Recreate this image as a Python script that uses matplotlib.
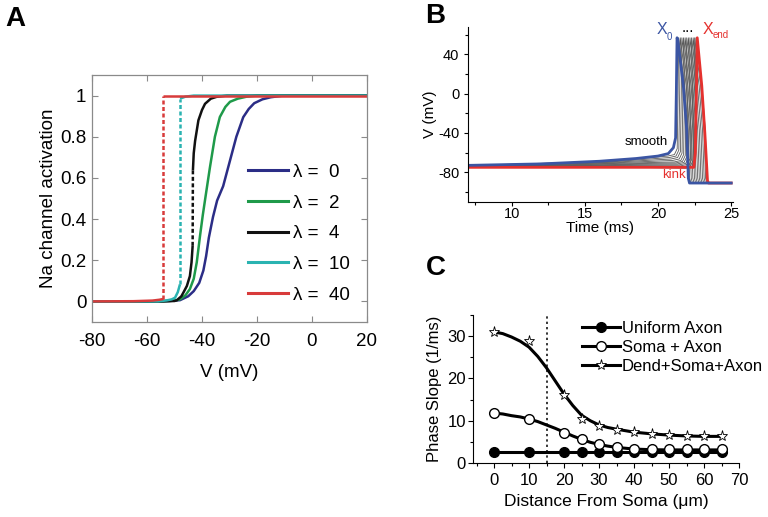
import matplotlib
matplotlib.use("Agg")
import matplotlib.pyplot as plt
from matplotlib.lines import Line2D
from matplotlib.ticker import MultipleLocator

plt.rcParams['font.family'] = ['Liberation Sans', 'DejaVu Sans']
plt.rcParams['axes.unicode_minus'] = False

# ---------------- panel A: Na channel activation vs V ----------------
lam_labels = ["λ =  0", "λ =  2", "λ =  4", "λ =  10", "λ =  40"]
lam_colors = ["#2b2d86", "#1f9a4a", "#111111", "#2ab3b1", "#d83b3b"]

# lambda = 0 (continuous)
a0_v = [-80, -60, -52, -48, -45, -43, -41, -39.5, -38.5, -37.5, -36, -34.5, -32.3, -30,
        -27.5, -25, -23, -21, -18, -15, -11, -5, 20]
a0_m = [0, 0, 0.002, 0.006, 0.025, 0.05, 0.09, 0.15, 0.22, 0.31, 0.41, 0.49, 0.56, 0.675,
        0.8, 0.895, 0.935, 0.963, 0.982, 0.992, 0.999, 1, 1]
# lambda = 2 (continuous)
a2_v = [-80, -55, -50, -48, -46, -44.4, -43, -41.9, -40.7, -39.7, -38.7, -37.1, -35.3,
        -33.5, -31.5, -29.8, -27, -23.7, -20, 20]
a2_m = [0, 0, 0.004, 0.01, 0.03, 0.06, 0.11, 0.19, 0.32, 0.42, 0.51, 0.652, 0.8,
        0.896, 0.945, 0.97, 0.985, 0.995, 1, 1]
# lambda = 4 (lower / upper branch)
a4_lo_v = [-80, -55, -50, -49.2, -47.5, -46.8, -45.5, -44.4, -43.8, -43.4]
a4_lo_m = [0, 0, 0.002, 0.005, 0.025, 0.042, 0.075, 0.123, 0.19, 0.27]
a4_hi_v = [-43.3, -43.0, -42.5, -41.3, -40, -38.9, -36.8, -34.7, -31, 20]
a4_hi_m = [0.636, 0.72, 0.78, 0.88, 0.93, 0.96, 0.985, 0.994, 1, 1]
# lambda = 10
a10_lo_v = [-80, -56, -52.8, -51, -49.8, -48.8, -48]
a10_lo_m = [0, 0, 0.005, 0.01, 0.018, 0.045, 0.083]
a10_hi_v = [-48, -46, -43, 20]
a10_hi_m = [0.985, 0.995, 1, 1]
# lambda = 40
a40_lo_v = [-80, -65, -58, -55.5, -54]
a40_lo_m = [0, 0.001, 0.004, 0.008, 0.012]
a40_hi_v = [-54, 20]
a40_hi_m = [1, 1]

# ---------------- panel B: voltage traces ----------------
blue_t = [7, 12, 16, 18.5, 20, 20.7, 21.05, 21.2, 21.25, 21.3, 21.35, 21.73, 21.96, 22.07, 22.15, 25]
blue_v = [-73, -71.5, -68.8, -66, -63.5, -61, -55, -45, 0, 57, 55, 8, -37, -86, -91, -91]
red_t = [7, 22.45, 22.55, 22.62, 22.68, 22.99, 23.2, 23.38, 23.45, 25]
red_v = [-75, -75, -60, 0, 57, 8, -40, -88.5, -91, -91]

gray_onset = [21.37, 21.48, 21.59, 21.70, 21.81, 21.92, 22.03, 22.14, 22.25, 22.36, 22.46, 22.55]
gray_knee = [-62, -63.5, -65, -66.5, -68, -69, -70, -71, -72, -73, -73.8, -74.4]
gray_start = [-73.2, -73.4, -73.5, -73.7, -73.8, -74, -74.1, -74.3, -74.4, -74.6, -74.7, -74.8]
gray_mid = [-68.6, -69.2, -69.8, -70.4, -71, -71.6, -72.2, -72.8, -73.3, -73.8, -74.2, -74.6]
# spike shape relative to onset (ms, mV)
spike_dt = [-0.06, 0.0, 0.04, 0.45, 0.68, 0.79, 0.87]
spike_v = [None, 0, 57, 8, -37, -86, -91]

# ---------------- panel C: phase slope ----------------
dist_pts = [0, 10, 20, 25, 30, 35, 40, 45, 50, 55, 60, 65]
uniform_pts = [2.5, 2.5, 2.5, 2.5, 2.5, 2.5, 2.5, 2.5, 2.5, 2.5, 2.5, 2.5]
soma_pts = [11.8, 10.5, 7.2, 5.6, 4.5, 3.8, 3.3, 3.2, 3.2, 3.2, 3.2, 3.2]
dend_pts = [31.0, 28.8, 16.0, 10.3, 8.8, 7.8, 7.3, 6.9, 6.6, 6.4, 6.3, 6.3]

fit_x = [0, 2.5, 5, 7.5, 10, 12.5, 15, 17.5, 20, 22.5, 25, 27.5, 30, 32.5, 35, 40, 45, 50, 55, 60, 65]
uniform_fit = [2.6] * len(fit_x)
soma_fit = [11.8, 11.6, 11.2, 10.9, 10.4, 9.8, 9.0, 8.2, 7.3, 6.4, 5.6, 4.9, 4.4, 4.0, 3.7,
            3.3, 3.15, 3.1, 3.1, 3.1, 3.1]
dend_fit = [31.0, 30.6, 29.8, 28.8, 27.4, 25.2, 22.5, 19.4, 16.3, 13.6, 11.3, 10.0, 9.0, 8.4,
            8.0, 7.3, 6.9, 6.6, 6.4, 6.3, 6.3]
soma_x_line = 15

fig = plt.figure(figsize=(7.68, 5.17), dpi=100)

# ===== A =====
axA = fig.add_axes([0.1198, 0.3772, 0.358, 0.4777])
dash = (0, (1.6, 1.0))
lw = 1.8
curves = [
    (a0_v, a0_m, None, None),
    (a2_v, a2_m, None, None),
    (a4_lo_v, a4_lo_m, a4_hi_v, a4_hi_m),
    (a10_lo_v, a10_lo_m, a10_hi_v, a10_hi_m),
    (a40_lo_v, a40_lo_m, a40_hi_v, a40_hi_m),
]
for (lo_v, lo_m, hi_v, hi_m), c in zip(curves, lam_colors):
    axA.plot(lo_v, lo_m, color=c, lw=lw, solid_capstyle='butt')
    if hi_v is not None:
        axA.plot(hi_v, hi_m, color=c, lw=lw, solid_capstyle='butt')
        axA.plot([lo_v[-1], hi_v[0]], [lo_m[-1], hi_m[0]], color=c, lw=lw, ls=dash)

axA.set_xlim(-80, 20)
axA.set_ylim(-0.1, 1.1)
axA.set_xticks([-80, -60, -40, -20, 0, 20])
axA.set_yticks([0, 0.2, 0.4, 0.6, 0.8, 1])
axA.set_yticklabels(["0", "0.2", "0.4", "0.6", "0.8", "1"])
for sp in axA.spines.values():
    sp.set_color("#8a8a8a")
    sp.set_linewidth(0.9)
axA.tick_params(direction='in', top=True, right=True, length=4, width=0.8,
                color="#8a8a8a", labelsize=13.5)
axA.tick_params(axis='x', pad=8)
axA.tick_params(axis='y', pad=4)
axA.set_xlabel("V (mV)", fontsize=13.5, labelpad=10)
axA.set_ylabel("Na channel activation", fontsize=13.5, labelpad=2)
handles = [Line2D([], [], color=c, lw=2.2) for c in lam_colors]
axA.legend(handles, lam_labels, loc='upper left', bbox_to_anchor=(0.569, 0.64),
           frameon=False, fontsize=13.5, handlelength=2.1, handletextpad=0.3,
           labelspacing=0.72, borderpad=0, borderaxespad=0)

# ===== B =====
axB = fig.add_axes([0.609, 0.6099, 0.345, 0.3379])
for on, k, s, m in zip(gray_onset, gray_knee, gray_start, gray_mid):
    t = [7, 17, on - 0.7, on - 0.25] + [on + d for d in spike_dt] + [25]
    v = [s, m, k - 1.5, k, k + 6] + spike_v[1:] + [spike_v[-1]]
    axB.plot(t, v, color="#5a5a5a", lw=0.6)
axB.plot(red_t, red_v, color="#e5312e", lw=2.0)
axB.plot(blue_t, blue_v, color="#3b55a3", lw=2.0)
axB.set_xlim(7, 25.1)
axB.set_ylim(-110, 68)
axB.spines['top'].set_visible(False)
axB.spines['right'].set_visible(False)
axB.xaxis.set_major_locator(MultipleLocator(5))
axB.xaxis.set_minor_locator(MultipleLocator(2.5))
axB.yaxis.set_major_locator(MultipleLocator(40))
axB.yaxis.set_minor_locator(MultipleLocator(20))
axB.tick_params(which='both', direction='out', width=0.8, labelsize=10.5)
axB.tick_params(which='major', length=3)
axB.tick_params(which='minor', length=2)
axB.tick_params(axis='x', pad=1)
axB.tick_params(axis='y', pad=3)
axB.set_xlabel("Time (ms)", fontsize=11, labelpad=0)
axB.set_ylabel("V (mV)", fontsize=11, labelpad=1)
axB.text(19.2, -49.5, "smooth", fontsize=9.5, ha='center', va='center')
axB.text(21.07, -82.4, "kink", fontsize=9.5, ha='center', va='center', color="#e5312e")
axB.text(20.27, 65.5, "X", fontsize=11.5, ha='center', va='center', color="#3b55a3")
axB.text(20.8, 57.5, "0", fontsize=7, ha='center', va='center', color="#3b55a3")
axB.text(22.05, 67, "...", fontsize=11, ha='center', va='center')
axB.text(23.42, 65.5, "X", fontsize=11.5, ha='center', va='center', color="#e5312e")
axB.text(24.25, 59.5, "end", fontsize=7, ha='center', va='center', color="#e5312e")

# ===== C =====
axC = fig.add_axes([0.6159, 0.1044, 0.3464, 0.2863])
axC.axvline(soma_x_line, color='black', lw=1.1, ls=(0, (1.5, 2)))
axC.plot(fit_x, uniform_fit, color='black', lw=2.2)
axC.plot(fit_x, soma_fit, color='black', lw=2.2)
axC.plot(fit_x, dend_fit, color='black', lw=2.2)
axC.plot(dist_pts, uniform_pts, ls='none', marker='o', ms=7, mfc='black', mec='black')
axC.plot(dist_pts, soma_pts, ls='none', marker='o', ms=7, mfc='white', mec='black', mew=1)
axC.plot(dist_pts, dend_pts, ls='none', marker='*', ms=8, mfc='white', mec='black', mew=0.6)
axC.set_xlim(-6, 70)
axC.set_ylim(0, 35)
axC.spines['top'].set_visible(False)
axC.spines['right'].set_visible(False)
axC.xaxis.set_major_locator(MultipleLocator(10))
axC.xaxis.set_minor_locator(MultipleLocator(5))
axC.yaxis.set_major_locator(MultipleLocator(10))
axC.yaxis.set_minor_locator(MultipleLocator(5))
axC.tick_params(which='both', direction='out', width=0.8, labelsize=12)
axC.tick_params(which='major', length=3.5)
axC.tick_params(which='minor', length=2)
axC.tick_params(axis='x', pad=4)
axC.tick_params(axis='y', pad=1.5)
axC.set_xlabel("Distance From Soma (μm)", fontsize=12.5, labelpad=4)
axC.set_ylabel("Phase Slope (1/ms)", fontsize=12, labelpad=4)
leg_handles = [
    Line2D([], [], color='black', lw=2.2, marker='o', ms=7, mfc='black'),
    Line2D([], [], color='black', lw=2.2, marker='o', ms=7, mfc='white', mew=1),
    Line2D([], [], color='black', lw=2.2, marker='*', ms=8, mfc='white', mew=0.6),
]
axC.legend(leg_handles, ["Uniform Axon", "Soma + Axon", "Dend+Soma+Axon"],
           loc='upper left', bbox_to_anchor=(0.41, 0.96), frameon=False, fontsize=12,
           handlelength=2.3, handletextpad=0.1, labelspacing=0.25, borderpad=0,
           borderaxespad=0)

fig.text(5 / 768, 1 - 6 / 517, "A", fontsize=20, fontweight='bold', va='top', ha='left')
fig.text(425 / 768, 1 - 3 / 517, "B", fontsize=20, fontweight='bold', va='top', ha='left')
fig.text(426 / 768, 1 - 255 / 517, "C", fontsize=20, fontweight='bold', va='top', ha='left')

fig.savefig("out.png", dpi=100)
